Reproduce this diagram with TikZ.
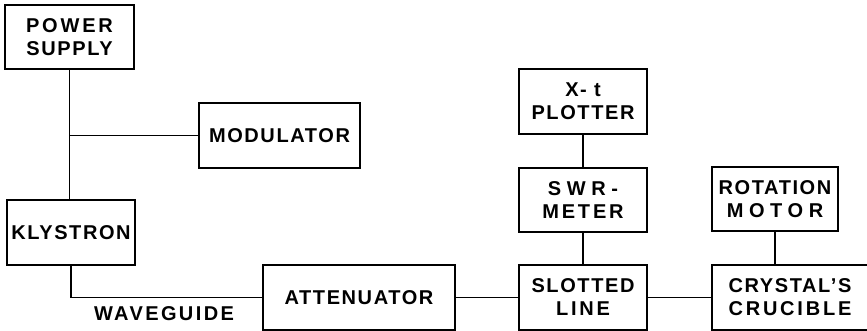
\documentclass[tikz,border=0pt]{standalone}
\usepackage{fontspec}
\setmainfont{Liberation Sans}[LetterSpace=8]
\newcommand{\wide}[2]{{\addfontfeature{LetterSpace=#1}#2}}
\begin{document}
\begin{tikzpicture}[x=1pt,y=-1pt,
  blk/.style={draw, line width=1.6pt, align=center, inner sep=0pt,
    font=\fontsize{20}{23}\selectfont\bfseries},
  wire/.style={line width=1.5pt},
  lbl/.style={font=\fontsize{20}{23}\selectfont\bfseries, inner sep=0pt}]
\useasboundingbox (0,0) rectangle (867,331);
\node[blk, minimum width=129pt, minimum height=64pt] (ps) at (69.5,37) {\wide{14}{POWER}\\SUPPLY};
\node[blk, minimum width=161pt, minimum height=65pt] (mod) at (279.5,135.5) {MODULATOR};
\node[blk, minimum width=128pt, minimum height=65pt] (kly) at (71,232.5) {KLYSTRON};
\node[blk, minimum width=192pt, minimum height=65pt] (att) at (359,297.5) {ATTENUATOR};
\node[blk, minimum width=128pt, minimum height=65pt] (slot) at (583,297.5) {SLOTTED\\\wide{14}{LINE}};
\node[blk, minimum width=128pt, minimum height=64pt] (swr) at (583,200) {\wide{28}{SWR-}\\\wide{14}{METER}};
\node[blk, minimum width=128pt, minimum height=65pt] (plot) at (583,101.5) {X- t\\PLOTTER};
\node[blk, minimum width=126pt, minimum height=64pt] (rot) at (775,199) {ROTATION\\\wide{28}{MOTOR}};
\node[blk, minimum width=156pt, minimum height=65pt] (cry) at (790,297.5) {CRYSTAL’S\\\wide{14}{CRUCIBLE}};
\node[lbl] (wg) at (164,314) {\wide{12}{WAVEGUIDE}};
\draw[wire] (ps.south) -- (kly.north -| ps.south);
\draw[wire] (ps.south |- mod.west) -- (mod.west);
\draw[wire] (kly.south) |- (att.west);
\draw[wire] (att.east) -- (slot.west);
\draw[wire] (slot.east) -- (cry.west);
\draw[wire] (plot.south) -- (swr.north);
\draw[wire] (swr.south) -- (slot.north);
\draw[wire] (rot.south) -- (rot.south |- cry.north);
\end{tikzpicture}
\end{document}
